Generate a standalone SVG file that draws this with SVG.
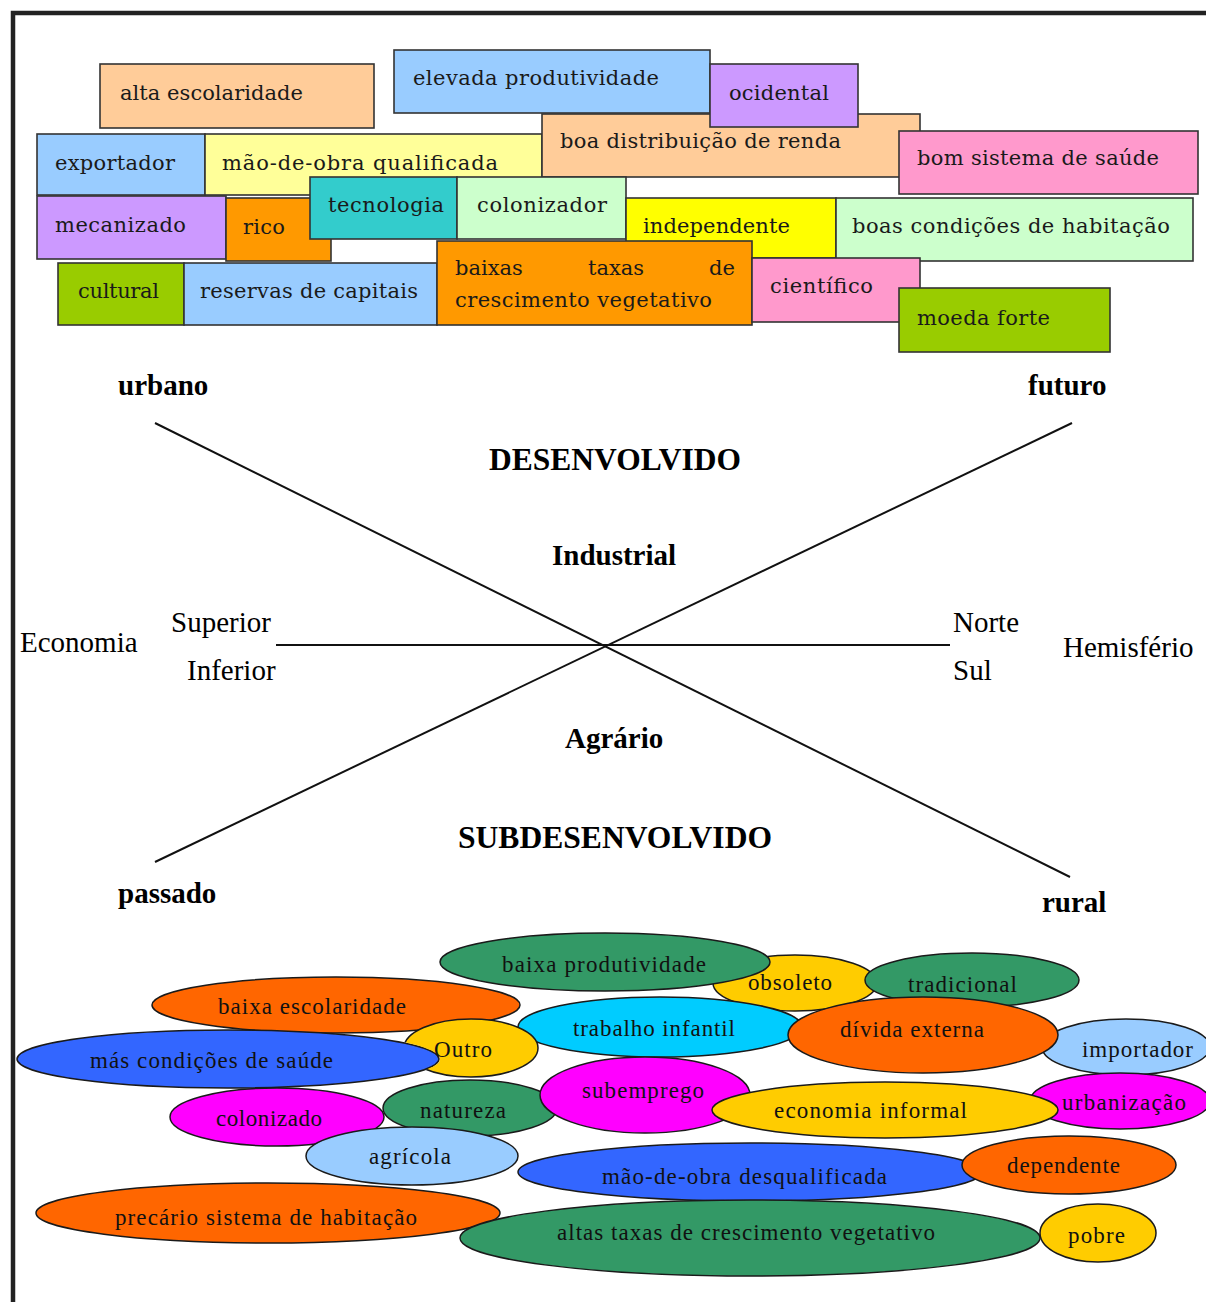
<svg xmlns="http://www.w3.org/2000/svg" width="1206" height="1302" viewBox="0 0 1206 1302">
<style>
.bx rect{stroke:#333;stroke-width:1.6}
.bt{font-family:"DejaVu Serif","Liberation Serif",serif;font-size:21px;fill:#1a1a1a}
.el ellipse{stroke:#1a1a1a;stroke-width:1.5}
.et{font-family:"Liberation Serif",serif;font-size:23px;fill:#111}
.lb{font-family:"Liberation Serif",serif;font-size:29px;fill:#000}
.b{font-weight:bold}
.cap{font-size:31px}
.ln line{stroke:#111;stroke-width:2}
</style>
<defs>
<mask id="mOutro" maskUnits="userSpaceOnUse" x="0" y="0" width="1206" height="1302">
<rect x="0" y="0" width="1206" height="1302" fill="#fff"/>
<ellipse cx="228" cy="1059" rx="212" ry="30" fill="#000"/>
</mask>
</defs>
<rect width="1206" height="1302" fill="#fff"/>
<path d="M13,1302 V13 H1206" fill="none" stroke="#222" stroke-width="4.5"/>

<!-- top boxes -->
<g class="bx" id="n-alta-escolaridade"><rect x="100" y="64" width="274" height="64" fill="#FFCC99"/><text class="bt" x="120" y="100" textLength="183">alta escolaridade</text></g>
<g class="bx" id="n-elevada-produtividade"><rect x="394" y="50" width="316" height="63" fill="#99CCFF"/><text class="bt" x="413" y="85" textLength="246">elevada produtividade</text></g>
<g class="bx" id="n-exportador"><rect x="37" y="134" width="168" height="61" fill="#99CCFF"/><text class="bt" x="55" y="170" textLength="120">exportador</text></g>
<g class="bx" id="n-mao-de-obra-qualificada"><rect x="205" y="134" width="337" height="61" fill="#FFFF99"/><text class="bt" x="222" y="170" textLength="276">mão-de-obra qualificada</text></g>
<g class="bx" id="n-boa-distribuicao"><rect x="542" y="114" width="378" height="63" fill="#FFCC99"/><text class="bt" x="560" y="148" textLength="281">boa distribuição de renda</text></g>
<g class="bx" id="n-ocidental"><rect x="710" y="64" width="148" height="63" fill="#CC99FF"/><text class="bt" x="729" y="100" textLength="100">ocidental</text></g>
<g class="bx" id="n-bom-sistema-saude"><rect x="899" y="131" width="299" height="63" fill="#FF99CC"/><text class="bt" x="917" y="165" textLength="242">bom sistema de saúde</text></g>
<g class="bx" id="n-mecanizado"><rect x="37" y="196" width="189" height="63" fill="#CC99FF"/><text class="bt" x="55" y="232" textLength="131">mecanizado</text></g>
<g class="bx" id="n-rico"><rect x="226" y="198" width="105" height="63" fill="#FF9900"/><text class="bt" x="243" y="234" textLength="42">rico</text></g>
<g class="bx" id="n-tecnologia"><rect x="310" y="177" width="147" height="62" fill="#33CCCC"/><text class="bt" x="328" y="212" textLength="116">tecnologia</text></g>
<g class="bx" id="n-colonizador"><rect x="457" y="177" width="169" height="62" fill="#CCFFCC"/><text class="bt" x="477" y="212" textLength="130">colonizador</text></g>
<g class="bx" id="n-independente"><rect x="626" y="198" width="210" height="60" fill="#FFFF00"/><text class="bt" x="643" y="233" textLength="147">independente</text></g>
<g class="bx" id="n-boas-condicoes"><rect x="836" y="198" width="357" height="63" fill="#CCFFCC"/><text class="bt" x="852" y="233" textLength="318">boas condições de habitação</text></g>
<g class="bx" id="n-cultural"><rect x="58" y="263" width="126" height="62" fill="#99CC00"/><text class="bt" x="78" y="298" textLength="81">cultural</text></g>
<g class="bx" id="n-reservas"><rect x="184" y="263" width="253" height="62" fill="#99CCFF"/><text class="bt" x="200" y="298" textLength="218">reservas de capitais</text></g>
<g class="bx" id="n-baixas-taxas"><rect x="437" y="241" width="315" height="84" fill="#FF9900"/><text class="bt" y="275"><tspan x="455">baixas</tspan><tspan x="588">taxas</tspan><tspan x="709">de</tspan></text><text class="bt" x="455" y="307" textLength="257">crescimento vegetativo</text></g>
<g class="bx" id="n-cientifico"><rect x="752" y="258" width="168" height="64" fill="#FF99CC"/><text class="bt" x="770" y="293" textLength="103">científico</text></g>
<g class="bx" id="n-moeda-forte"><rect x="899" y="288" width="211" height="64" fill="#99CC00"/><text class="bt" x="917" y="325" textLength="133">moeda forte</text></g>

<!-- connectors -->
<g class="ln" id="connectors">
<line x1="155" y1="423" x2="1070" y2="877"/>
<line x1="155" y1="862" x2="1072" y2="423"/>
<line x1="276" y1="645" x2="950" y2="645"/>
</g>

<!-- middle labels -->
<g id="labels">
<text class="lb b" x="118" y="395">urbano</text>
<text class="lb b" x="1028" y="395">futuro</text>
<text class="lb b cap" x="489" y="470" textLength="252" lengthAdjust="spacingAndGlyphs">DESENVOLVIDO</text>
<text class="lb b" x="552" y="565">Industrial</text>
<text class="lb" x="20" y="652">Economia</text>
<text class="lb" x="171" y="632">Superior</text>
<text class="lb" x="187" y="680">Inferior</text>
<text class="lb" x="953" y="632">Norte</text>
<text class="lb" x="953" y="680">Sul</text>
<text class="lb" x="1063" y="657">Hemisfério</text>
<text class="lb b" x="565" y="748">Agrário</text>
<text class="lb b cap" x="458" y="848" textLength="314" lengthAdjust="spacingAndGlyphs">SUBDESENVOLVIDO</text>
<text class="lb b" x="118" y="903">passado</text>
<text class="lb b" x="1042" y="912">rural</text>
</g>

<!-- ellipses -->
<g class="el" id="n-obsoleto"><ellipse cx="795" cy="983" rx="82" ry="28" fill="#FFCC00"/><text class="et" x="748" y="990" textLength="84">obsoleto</text></g>
<g class="el" id="n-baixa-produtividade"><ellipse cx="605" cy="962" rx="165" ry="29" fill="#339966"/><text class="et" x="502" y="972" textLength="204">baixa produtividade</text></g>
<g class="el" id="n-tradicional"><ellipse cx="972" cy="980" rx="107" ry="27" fill="#339966"/><text class="et" x="908" y="992" textLength="109">tradicional</text></g>
<g class="el" id="n-baixa-escolaridade"><ellipse cx="336" cy="1005" rx="184" ry="28" fill="#FF6600"/><text class="et" x="218" y="1014" textLength="188">baixa escolaridade</text></g>
<g class="el" id="n-trabalho-infantil"><ellipse cx="660" cy="1027" rx="142" ry="30" fill="#00CCFF"/><text class="et" x="573" y="1036" textLength="162">trabalho infantil</text></g>
<g class="el" id="n-importador"><ellipse cx="1126" cy="1047" rx="84" ry="28" fill="#99CCFF"/><text class="et" x="1082" y="1057" textLength="111">importador</text></g>
<g class="el" id="n-divida-externa"><ellipse cx="923" cy="1035" rx="135" ry="38" fill="#FF6600"/><text class="et" x="840" y="1037" textLength="144">dívida externa</text></g>
<g class="el" id="n-mas-condicoes"><ellipse cx="228" cy="1059" rx="211" ry="29" fill="#3366FF"/><text class="et" x="90" y="1068" textLength="243">más condições de saúde</text></g>
<g class="el" id="n-outro"><ellipse cx="471" cy="1048" rx="67" ry="29" fill="#FFCC00" mask="url(#mOutro)"/><text class="et" x="434" y="1057" textLength="58">Outro</text></g>
<g class="el" id="n-colonizado"><ellipse cx="277" cy="1117" rx="107" ry="29" fill="#FF00FF"/><text class="et" x="216" y="1126" textLength="106">colonizado</text></g>
<g class="el" id="n-natureza"><ellipse cx="470" cy="1108" rx="87" ry="28" fill="#339966"/><text class="et" x="420" y="1118" textLength="86">natureza</text></g>
<g class="el" id="n-subemprego"><ellipse cx="645" cy="1095" rx="105" ry="38" fill="#FF00FF"/><text class="et" x="582" y="1098" textLength="122">subemprego</text></g>
<g class="el" id="n-urbanizacao"><ellipse cx="1120" cy="1101" rx="90" ry="28" fill="#FF00FF"/><text class="et" x="1062" y="1110" textLength="124">urbanização</text></g>
<g class="el" id="n-economia-informal"><ellipse cx="885" cy="1110" rx="173" ry="28" fill="#FFCC00"/><text class="et" x="774" y="1118" textLength="193">economia informal</text></g>
<g class="el" id="n-agricola"><ellipse cx="412" cy="1156" rx="106" ry="29" fill="#99CCFF"/><text class="et" x="369" y="1164" textLength="82">agrícola</text></g>
<g class="el" id="n-mao-de-obra-desqualificada"><ellipse cx="750" cy="1172" rx="232" ry="29" fill="#3366FF"/><text class="et" x="602" y="1184" textLength="285">mão-de-obra desqualificada</text></g>
<g class="el" id="n-dependente"><ellipse cx="1069" cy="1165" rx="107" ry="29" fill="#FF6600"/><text class="et" x="1007" y="1173" textLength="113">dependente</text></g>
<g class="el" id="n-precario"><ellipse cx="268" cy="1213" rx="232" ry="30" fill="#FF6600"/><text class="et" x="115" y="1225" textLength="302">precário sistema de habitação</text></g>
<g class="el" id="n-altas-taxas"><ellipse cx="750" cy="1238" rx="290" ry="38" fill="#339966"/><text class="et" x="557" y="1240" textLength="378">altas taxas de crescimento vegetativo</text></g>
<g class="el" id="n-pobre"><ellipse cx="1098" cy="1233" rx="58" ry="29" fill="#FFCC00"/><text class="et" x="1068" y="1243" textLength="57">pobre</text></g>
</svg>
